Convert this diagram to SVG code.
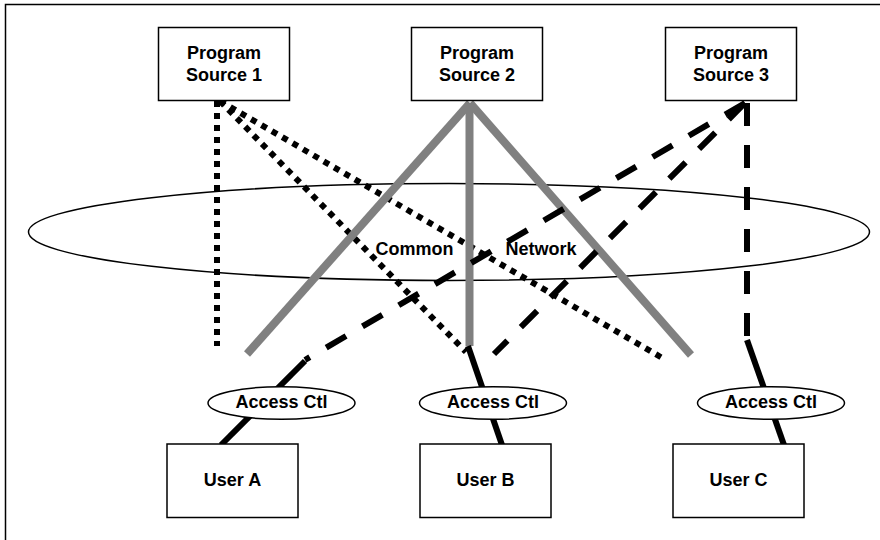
<svg xmlns="http://www.w3.org/2000/svg" width="880" height="540" viewBox="0 0 880 540">
<style>
  .box { fill: #fff; stroke: #000; stroke-width: 1.5; }
  .oval { fill: #fff; stroke: #000; stroke-width: 1.5; }
  .net { fill: none; stroke: #000; stroke-width: 1.5; }
  .lbl { font-family: "Liberation Sans", Arial, sans-serif; font-weight: bold; font-size: 18px; fill: #000; text-anchor: middle; }
  .dot { fill: none; stroke: #000; stroke-width: 6; stroke-dasharray: 6 6; }
  .gray { fill: none; stroke: #808080; stroke-width: 8; }
  .dash { fill: none; stroke: #000; stroke-width: 6; stroke-dasharray: 23 19; }
  .solid { fill: none; stroke: #000; stroke-width: 6; }
</style>
<rect width="880" height="540" fill="#fff"/>
<path d="M5.5 540 V4.5 H880" fill="none" stroke="#000" stroke-width="1.5"/>

<g id="network">
  <ellipse class="net" cx="449" cy="232" rx="420.5" ry="48.5"/>
  <text class="lbl" x="414.5" y="255">Common</text>
  <text class="lbl" x="541" y="255">Network</text>
</g>

<g id="connectors">
  <line class="dot" x1="217" y1="101" x2="217" y2="346"/>
  <line class="dot" x1="220" y1="101" x2="466" y2="352"/>
  <line class="dot" x1="220" y1="101" x2="664" y2="359"/>
  <line class="gray" x1="470" y1="103" x2="247" y2="354"/>
  <line class="gray" x1="469.5" y1="103" x2="469.5" y2="346"/>
  <line class="gray" x1="470" y1="103" x2="691" y2="355"/>
  <line class="dash" x1="745" y1="103" x2="305" y2="360"/>
  <line class="dash" x1="745" y1="103" x2="494" y2="354"/>
  <line class="dash" x1="747" y1="103" x2="747" y2="342"/>
  <line class="solid" x1="305" y1="361" x2="221" y2="445"/>
  <line class="solid" x1="468" y1="346" x2="502" y2="445"/>
  <line class="solid" x1="747" y1="340" x2="784" y2="445"/>
</g>

<g id="ps1">
  <rect class="box" x="158.5" y="27.5" width="131" height="73"/>
  <text class="lbl" x="224" y="59">Program</text>
  <text class="lbl" x="224" y="81">Source 1</text>
</g>
<g id="ps2">
  <rect class="box" x="411.5" y="27.5" width="131" height="73"/>
  <text class="lbl" x="477" y="59">Program</text>
  <text class="lbl" x="477" y="81">Source 2</text>
</g>
<g id="ps3">
  <rect class="box" x="665.5" y="27.5" width="131" height="73"/>
  <text class="lbl" x="731" y="59">Program</text>
  <text class="lbl" x="731" y="81">Source 3</text>
</g>

<g id="acA">
  <ellipse class="oval" cx="281.5" cy="403" rx="73.5" ry="16.3"/>
  <text class="lbl" x="281.5" y="408">Access Ctl</text>
</g>
<g id="acB">
  <ellipse class="oval" cx="493" cy="403" rx="73.5" ry="16.3"/>
  <text class="lbl" x="493" y="408">Access Ctl</text>
</g>
<g id="acC">
  <ellipse class="oval" cx="771" cy="403" rx="73.5" ry="16.3"/>
  <text class="lbl" x="771" y="408">Access Ctl</text>
</g>

<g id="userA">
  <rect class="box" x="167" y="444" width="131" height="73.5"/>
  <text class="lbl" x="232.5" y="486">User A</text>
</g>
<g id="userB">
  <rect class="box" x="420" y="444" width="131" height="73.5"/>
  <text class="lbl" x="485.5" y="486">User B</text>
</g>
<g id="userC">
  <rect class="box" x="673" y="444" width="131" height="73.5"/>
  <text class="lbl" x="738.5" y="486">User C</text>
</g>
</svg>
